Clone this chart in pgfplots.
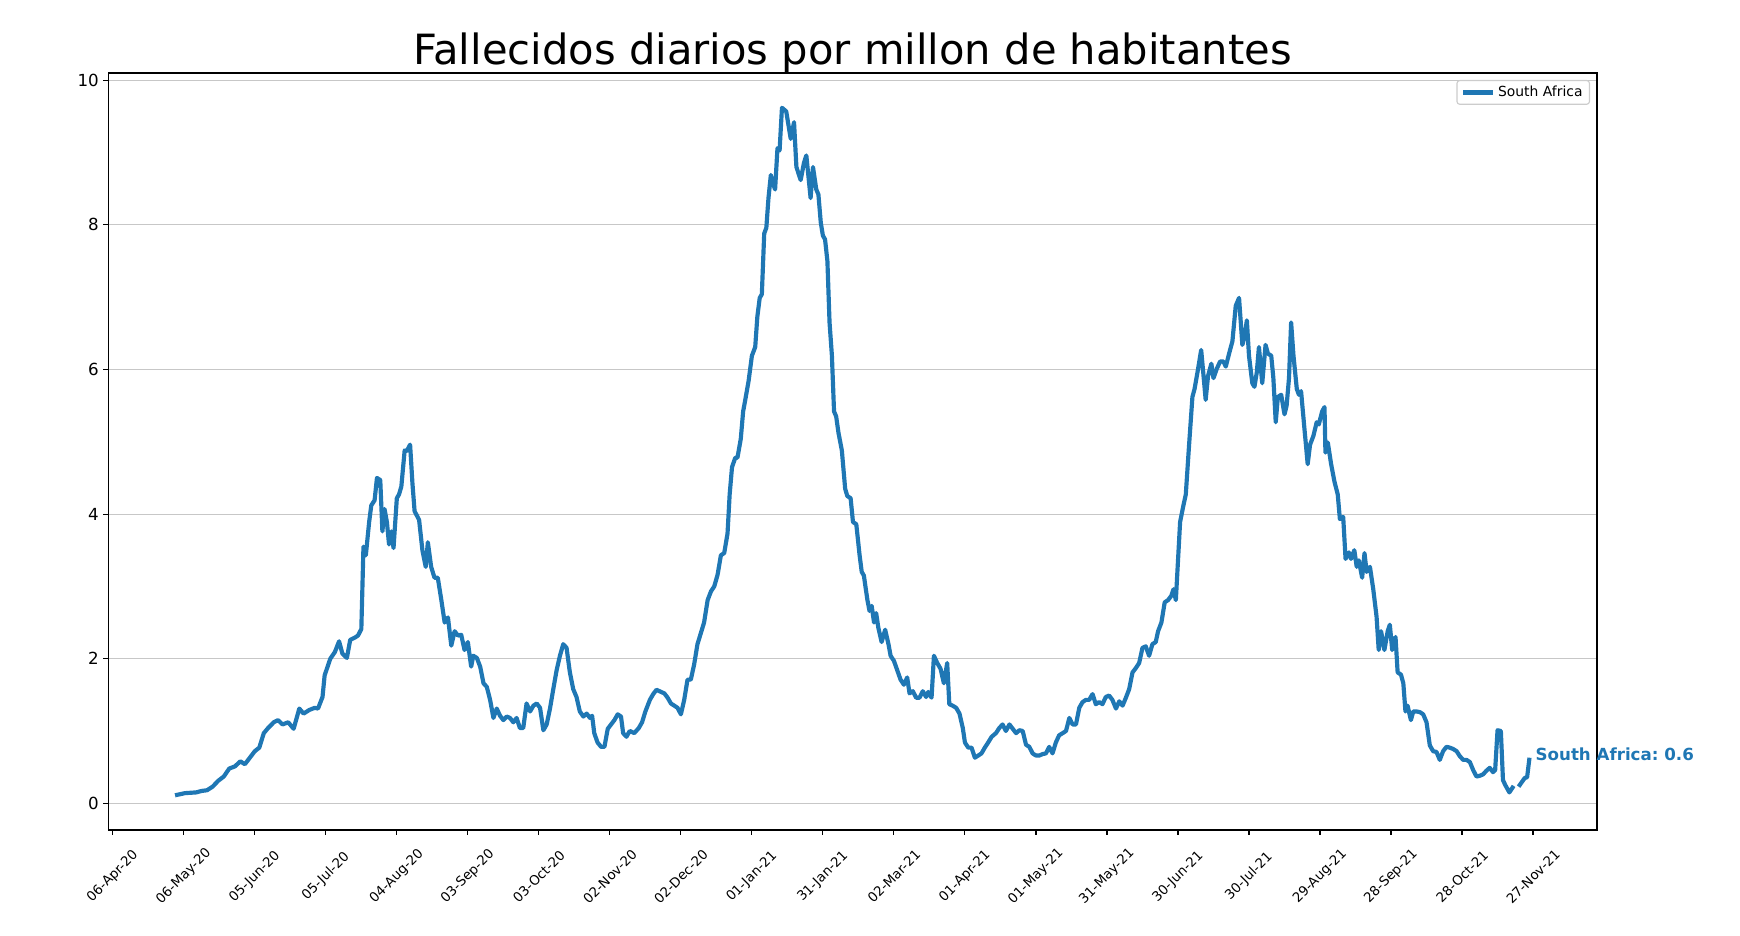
\documentclass[border=0pt]{standalone}
\usepackage{fontspec}
\setmainfont{DejaVu Sans}
\usepackage{pgfplots}
\pgfplotsset{compat=1.18}
\usepackage{pgfplotstable}
\definecolor{mplblue}{HTML}{1F77B4}
\frenchspacing

\pgfplotstableread{
day value
26.3 0.11
30.5 0.14
35.2 0.15
37.5 0.17
39.8 0.18
42.2 0.23
44.5 0.31
46.9 0.37
49.2 0.48
51.6 0.51
53.9 0.58
55.8 0.54
57.2 0.60
60.0 0.72
61.9 0.77
63.8 0.97
65.6 1.04
68.0 1.12
69.8 1.15
71.7 1.09
74.1 1.12
76.4 1.03
78.8 1.31
80.6 1.24
83.0 1.29
85.3 1.32
86.7 1.31
88.6 1.47
89.5 1.77
91.9 2.00
93.8 2.09
95.6 2.24
97.0 2.07
98.9 2.01
100.3 2.26
102.2 2.29
103.6 2.32
105.0 2.41
105.9 3.55
106.9 3.43
108.3 3.89
109.2 4.12
110.6 4.19
111.6 4.50
113.0 4.47
113.9 3.76
114.8 4.07
115.8 3.89
116.7 3.58
117.7 3.76
118.6 3.53
120.0 4.22
120.9 4.27
121.9 4.38
123.3 4.88
124.2 4.87
125.6 4.96
126.6 4.42
127.5 4.04
129.4 3.92
130.8 3.50
132.2 3.27
133.1 3.61
134.5 3.27
135.9 3.12
137.3 3.12
138.8 2.81
140.2 2.50
141.6 2.57
143.0 2.18
144.4 2.38
145.8 2.32
147.2 2.33
148.6 2.12
150.0 2.23
151.4 1.89
152.3 2.04
153.8 2.01
155.2 1.89
156.6 1.66
158.0 1.61
159.4 1.43
160.8 1.18
162.2 1.31
163.6 1.21
165.0 1.15
166.4 1.20
167.8 1.18
169.2 1.12
170.6 1.18
172.0 1.04
173.4 1.04
174.8 1.38
176.3 1.27
177.7 1.35
179.1 1.38
180.5 1.32
181.9 1.01
183.3 1.09
184.7 1.31
186.1 1.58
187.5 1.84
188.9 2.04
190.3 2.20
191.7 2.15
193.1 1.81
194.5 1.58
195.9 1.47
197.3 1.27
198.8 1.20
200.2 1.24
201.6 1.18
202.5 1.21
203.4 0.97
204.8 0.84
206.3 0.78
207.7 0.78
209.1 1.03
210.5 1.09
211.9 1.15
213.3 1.23
214.7 1.20
215.6 0.97
217.0 0.92
218.4 1.00
220.3 0.97
222.2 1.04
223.6 1.12
225.0 1.27
226.9 1.43
228.3 1.51
229.7 1.57
231.6 1.54
233.0 1.52
234.4 1.46
235.8 1.38
237.2 1.35
238.6 1.32
240.0 1.23
241.4 1.43
242.8 1.71
244.2 1.71
245.6 1.92
247.0 2.20
248.4 2.35
249.8 2.50
251.3 2.81
252.7 2.93
254.1 3.00
255.5 3.16
256.9 3.43
258.3 3.46
259.7 3.73
260.6 4.27
261.6 4.65
263.0 4.78
263.9 4.78
265.3 5.04
266.3 5.42
267.2 5.58
268.6 5.84
270.0 6.19
271.4 6.31
272.3 6.73
273.3 6.99
274.2 7.04
275.2 7.88
276.1 7.96
277.0 8.37
278.0 8.69
278.9 8.57
279.8 8.49
280.8 9.06
281.7 9.03
282.7 9.62
284.5 9.57
286.4 9.19
287.8 9.42
288.8 8.80
290.6 8.62
292.0 8.86
293.0 8.96
294.8 8.37
295.8 8.80
297.2 8.49
298.1 8.42
299.1 8.03
300.0 7.85
300.9 7.80
301.9 7.50
302.8 6.65
303.8 6.19
304.7 5.42
305.6 5.35
306.6 5.12
308.0 4.88
309.4 4.35
310.3 4.25
311.7 4.22
312.7 3.89
314.1 3.86
315.5 3.43
316.4 3.20
317.3 3.15
318.8 2.81
319.7 2.66
320.6 2.73
321.6 2.50
322.5 2.63
323.4 2.43
324.8 2.23
326.3 2.40
327.7 2.20
328.6 2.04
330.0 1.97
331.4 1.84
332.8 1.71
334.2 1.64
335.6 1.74
336.6 1.52
338.0 1.55
339.4 1.46
340.8 1.46
342.2 1.55
343.6 1.47
344.5 1.54
345.9 1.46
346.9 2.04
348.3 1.94
349.7 1.86
351.1 1.66
352.5 1.94
353.4 1.37
354.8 1.35
356.3 1.32
357.7 1.24
359.1 1.04
360.0 0.84
361.4 0.77
362.8 0.77
364.2 0.63
365.6 0.66
367.0 0.69
368.4 0.77
369.8 0.84
371.3 0.92
373.1 0.97
374.5 1.04
375.9 1.09
377.3 1.00
378.8 1.09
380.2 1.03
381.6 0.97
383.0 1.01
384.4 1.00
385.8 0.81
387.2 0.78
388.6 0.69
390.0 0.66
391.4 0.66
392.8 0.68
394.2 0.69
395.6 0.78
397.0 0.69
398.4 0.84
399.8 0.94
401.3 0.97
402.7 1.00
404.1 1.18
405.5 1.09
406.9 1.09
408.3 1.32
409.7 1.40
411.1 1.43
412.5 1.43
413.9 1.51
415.3 1.37
416.7 1.40
418.1 1.37
419.5 1.47
420.9 1.49
422.3 1.43
423.8 1.31
425.2 1.41
426.6 1.35
428.0 1.46
429.4 1.58
430.8 1.81
432.2 1.87
433.6 1.94
435.0 2.15
436.4 2.17
437.8 2.04
439.2 2.20
440.6 2.23
441.6 2.38
443.0 2.50
444.4 2.78
445.8 2.81
447.2 2.87
448.1 2.96
449.1 2.81
450.0 3.35
450.9 3.89
452.3 4.12
453.3 4.27
454.7 4.96
456.1 5.62
457.0 5.73
458.4 5.99
459.8 6.27
460.8 5.91
461.7 5.58
462.7 5.91
464.1 6.08
465.0 5.88
466.4 6.01
467.8 6.11
469.2 6.11
470.2 6.04
471.6 6.22
473.0 6.39
474.4 6.88
475.8 6.99
477.2 6.34
478.1 6.45
479.1 6.68
480.0 6.19
481.4 5.81
482.3 5.76
483.3 5.96
484.2 6.31
485.6 5.81
487.0 6.34
488.0 6.22
489.4 6.19
490.3 5.88
491.3 5.27
492.2 5.62
493.6 5.65
495.0 5.38
495.9 5.50
496.9 5.88
497.8 6.65
498.8 6.19
500.2 5.73
501.1 5.65
502.0 5.70
503.4 5.19
504.8 4.69
505.8 4.96
507.2 5.08
508.6 5.27
509.5 5.24
510.9 5.42
511.9 5.48
512.3 4.85
513.3 4.99
514.7 4.69
516.1 4.45
517.5 4.27
518.4 3.93
519.8 3.96
520.8 3.38
522.2 3.47
523.1 3.38
524.5 3.50
525.5 3.27
526.4 3.36
527.8 3.12
528.8 3.46
529.7 3.20
531.1 3.27
532.5 2.96
533.9 2.58
534.8 2.12
535.8 2.38
537.2 2.12
538.6 2.38
539.5 2.47
540.5 2.12
541.9 2.30
542.8 1.81
544.2 1.78
545.2 1.66
546.1 1.27
547.0 1.35
548.4 1.15
549.4 1.27
550.8 1.27
552.2 1.26
553.6 1.23
555.0 1.12
556.4 0.80
557.8 0.72
559.2 0.71
560.6 0.60
562.0 0.72
563.4 0.78
564.8 0.77
566.3 0.75
567.7 0.72
569.1 0.65
570.5 0.60
571.9 0.60
573.3 0.57
574.7 0.46
576.1 0.37
577.5 0.38
578.9 0.40
580.3 0.45
581.7 0.49
583.1 0.43
584.0 0.46
585.0 1.01
586.4 1.00
587.3 0.32
588.3 0.25
590.0 0.15
591.8 0.24
592.8 nan
593.9 0.23
596.5 0.35
597.5 0.36
598.5 0.63
}\zadata

\begin{document}
\begin{tikzpicture}
\begin{axis}[
  scale only axis,
  width=1072pt, height=545pt,
  xmin=-2, xmax=627, ymin=-0.37, ymax=10.1,
  clip=false,
  unbounded coords=jump,
  axis line style={line width=0.8pt, black},
  tick style={line width=0.8pt, black},
  tick align=outside,
  tick pos=left,
  major tick length=3.5pt,
  xtick={0,30,...,600},
  xticklabels={06-Apr-20,06-May-20,05-Jun-20,05-Jul-20,04-Aug-20,03-Sep-20,03-Oct-20,02-Nov-20,02-Dec-20,01-Jan-21,31-Jan-21,02-Mar-21,01-Apr-21,01-May-21,31-May-21,30-Jun-21,30-Jul-21,29-Aug-21,28-Sep-21,28-Oct-21,27-Nov-21},
  xticklabel style={font=\fontsize{9.6}{11}\selectfont, rotate=45, anchor=center, xshift=-21.2pt, yshift=-21.2pt},
  ytick={0,2,4,6,8,10},
  yticklabel style={font=\fontsize{12}{14}\selectfont, inner sep=3pt},
  /pgf/number format/assume math mode=true,
  ymajorgrids,
  grid style={line width=0.8pt, color=black!22},
  title={Fallecidos diarios por millon de habitantes},
  title style={font=\fontsize{30}{34}\selectfont, at={(0.5,1)}, anchor=base, yshift=0pt},
  legend style={at={(1,1)}, anchor=north east, xshift=-5pt, yshift=-5pt,
    draw=black!20, line width=0.8pt, rounded corners=2pt,
    font=\fontsize{10}{12}\selectfont, inner xsep=3pt, inner ysep=2pt},
  legend cell align=left,
  legend image code/.code={\draw[#1, line width=3pt] (0pt,0pt) -- (21.6pt,0pt);},
]
\addplot[color=mplblue, line width=3pt, line join=round] table[x=day, y=value] {\zadata};
\addlegendentry{South Africa}
\node[anchor=west, text=mplblue, font=\bfseries\fontsize{12}{14}\selectfont, inner sep=0pt] at (axis cs:601,0.68) {South Africa: 0.6};
\coordinate (sw) at (rel axis cs:0,0);
\coordinate (ne) at (rel axis cs:1,1);
\end{axis}
\pgfresetboundingbox
\path ([shift={(-77.8pt,-76.3pt)}]sw) rectangle ([shift={(103pt,52.6pt)}]ne);
\end{tikzpicture}
\end{document}
